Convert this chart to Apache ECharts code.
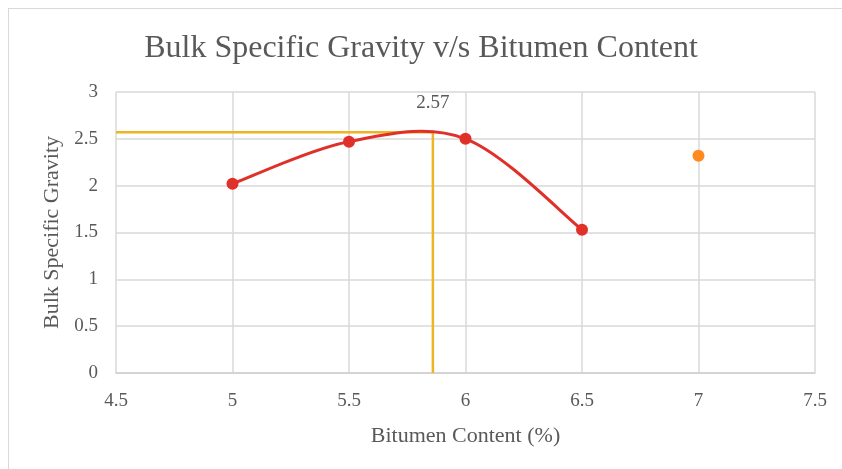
<!DOCTYPE html>
<html>
<head>
<meta charset="utf-8">
<script src="https://cdn.jsdelivr.net/npm/echarts@6/dist/echarts.min.js"></script>
<style>
html,body{margin:0;padding:0;background:#fff;}
#frame{position:absolute;left:8px;top:8px;width:900px;height:500px;border:1px solid #d9d9d9;box-sizing:border-box;}
#chart{position:absolute;left:0;top:0;width:842px;height:469px;}
</style>
</head>
<body>
<div id="frame"></div>
<div id="chart"></div>
<script>
const titleText = 'Bulk Specific Gravity v/s Bitumen Content';
const xAxisName = 'Bitumen Content (%)';
const yAxisName = 'Bulk Specific Gravity';
const bitumen = [5, 5.5, 6, 6.5];
const gravity = [2.02, 2.47, 2.50, 1.53];
const extraX = [7];
const extraY = [2.32];
const optimumX = 5.86;
const optimumY = 2.57;
const xMin = 4.5, xMax = 7.5, xStep = 0.5;
const yMin = 0, yMax = 3, yStep = 0.5;

const font = 'Liberation Serif, Times New Roman, serif';
const textColor = '#595959';
const curvePoints = bitumen.map((x, i) => [x, gravity[i]]);

// Excel-style smoothed curve (Catmull-Rom → cubic Bezier, computed in pixel space)
function renderCurve(params, api) {
  if (params.dataIndex !== 0) return null;
  const p = curvePoints.map(d => api.coord(d));
  const n = p.length;
  let d = 'M' + p[0][0] + ' ' + p[0][1];
  for (let i = 0; i < n - 1; i++) {
    const p0 = p[Math.max(i - 1, 0)], p1 = p[i], p2 = p[i + 1], p3 = p[Math.min(i + 2, n - 1)];
    const c1 = [p1[0] + (p2[0] - p0[0]) / 6, p1[1] + (p2[1] - p0[1]) / 6];
    const c2 = [p2[0] - (p3[0] - p1[0]) / 6, p2[1] - (p3[1] - p1[1]) / 6];
    d += ' C' + c1[0] + ' ' + c1[1] + ' ' + c2[0] + ' ' + c2[1] + ' ' + p2[0] + ' ' + p2[1];
  }
  return {
    type: 'path',
    shape: {pathData: d},
    style: {fill: null, stroke: '#E0302A', lineWidth: 3}
  };
}

const chart = echarts.init(document.getElementById('chart'), null, {renderer: 'canvas'});
chart.setOption({
  backgroundColor: 'transparent',
  animation: false,
  textStyle: {fontFamily: font},
  title: {
    text: titleText, left: 'center', top: 28,
    textStyle: {fontFamily: font, fontSize: 32, fontWeight: 'normal', color: textColor}
  },
  grid: {left: 116, right: 27, top: 92, bottom: 96},
  xAxis: {
    type: 'value', min: xMin, max: xMax, interval: xStep,
    name: xAxisName, nameLocation: 'middle', nameGap: 52,
    nameTextStyle: {fontFamily: font, fontSize: 22, color: textColor},
    axisLine: {lineStyle: {color: '#d0d0d0', width: 1.5}},
    axisTick: {show: false},
    axisLabel: {fontFamily: font, fontSize: 19, color: textColor, margin: 19},
    splitLine: {show: true, lineStyle: {color: '#d9d9d9', width: 1.5}}
  },
  yAxis: {
    type: 'value', min: yMin, max: yMax, interval: yStep,
    name: yAxisName, nameLocation: 'middle', nameGap: 42,
    nameTextStyle: {fontFamily: font, fontSize: 22, color: textColor},
    axisLine: {show: false},
    axisTick: {show: false},
    axisLabel: {fontFamily: font, fontSize: 19, color: textColor, margin: 18},
    splitLine: {show: true, lineStyle: {color: '#d9d9d9', width: 1.5}}
  },
  series: [
    {
      type: 'line',
      data: [[xMin, optimumY], [optimumX, optimumY], [optimumX, yMin]],
      showSymbol: false, symbol: 'none',
      lineStyle: {color: '#EDB423', width: 2.5},
      z: 2,
      markPoint: {
        symbol: 'circle', symbolSize: 0,
        data: [{coord: [optimumX, optimumY], value: optimumY.toFixed(2)}],
        label: {show: true, position: 'top', distance: 20, fontFamily: font, fontSize: 19, color: textColor, formatter: '{c}'}
      }
    },
    {
      type: 'custom',
      coordinateSystem: 'cartesian2d',
      data: curvePoints,
      encode: {x: 0, y: 1},
      renderItem: renderCurve,
      z: 3
    },
    {
      type: 'scatter',
      data: curvePoints,
      symbol: 'circle', symbolSize: 12,
      itemStyle: {color: '#E0302A', opacity: 1},
      z: 4
    },
    {
      type: 'scatter',
      data: extraX.map((x, i) => [x, extraY[i]]),
      symbol: 'circle', symbolSize: 12,
      itemStyle: {color: '#FF8A1F', opacity: 1},
      z: 4
    }
  ]
});
</script>
</body>
</html>
